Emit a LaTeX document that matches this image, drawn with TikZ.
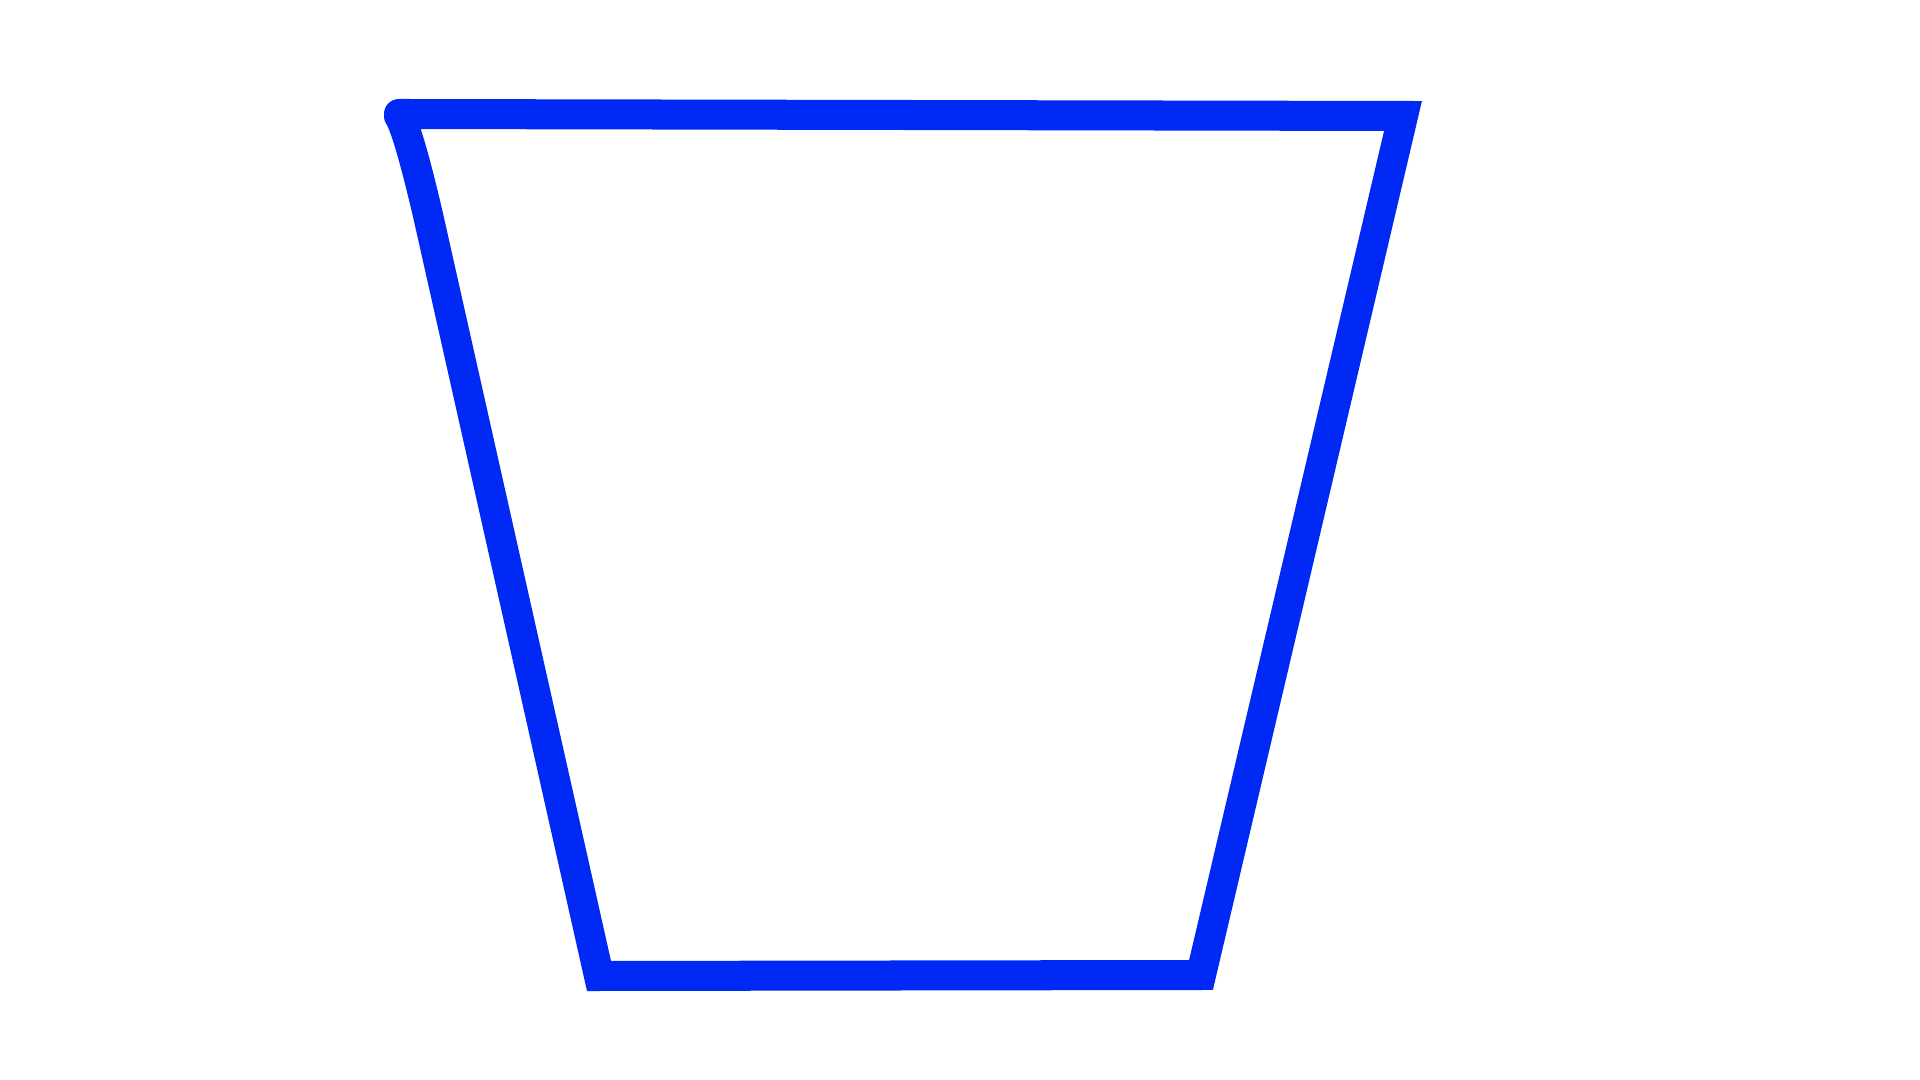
\documentclass[tikz,border=0pt]{standalone}
\definecolor{cupblue}{RGB}{0,41,245}
\begin{document}
\begin{tikzpicture}[x=0.01cm,y=-0.01cm]
            \useasboundingbox (0,0) rectangle (1920,1080);
            \draw[line width=0.3cm,color=cupblue,line join=miter,line cap=round]
                (399,114) -- (1403,116) -- (1201,975) -- (599,976) -- (428,215)
                .. controls (410,138) and (402,120) .. (399,116);
        \end{tikzpicture}
\end{document}
